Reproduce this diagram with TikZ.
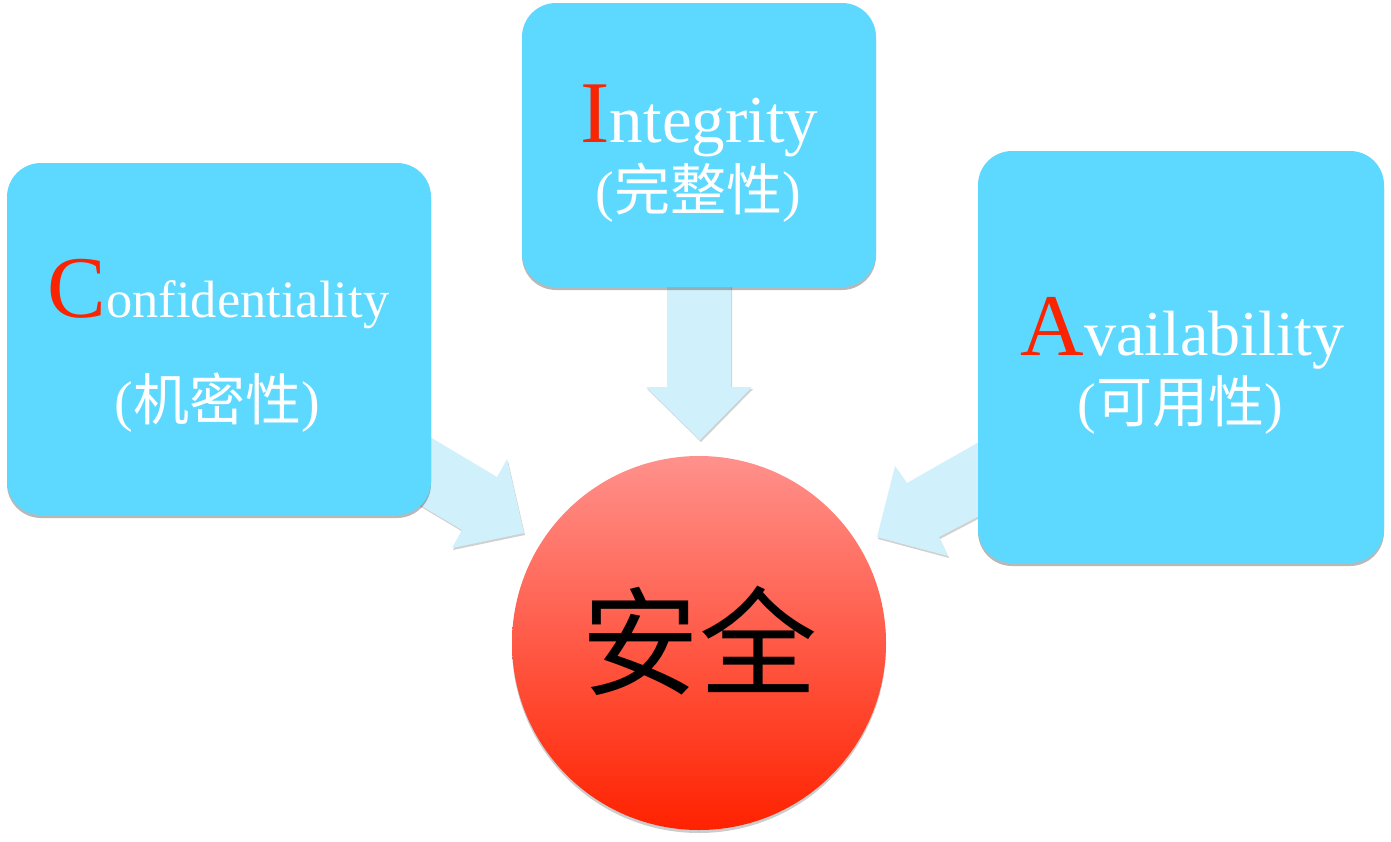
\documentclass[tikz,border=0pt]{standalone}
\usepackage{fontspec}
\setmainfont{Liberation Serif}
\newfontfamily\cjk{Noto Sans CJK SC}
\usetikzlibrary{shadows}
\definecolor{boxblue}{RGB}{93,216,254}
\definecolor{arrowblue}{RGB}{208,241,252}
\definecolor{capred}{RGB}{250,36,0}
\definecolor{circtop}{RGB}{255,145,140}
\definecolor{circbot}{RGB}{255,34,0}
\newcommand{\redinit}[1]{{\fontsize{88}{88}\selectfont\color{capred}#1}}
\begin{document}
\begin{tikzpicture}[x=1pt,y=-1pt,
  shadowed/.style={drop shadow={shadow xshift=0pt,shadow yshift=-3pt,fill=black,opacity=0.28}},
  cbox/.style={fill=boxblue,draw=none,rounded corners=34pt,inner sep=0pt,shadowed},
  blockarrow/.style={fill=arrowblue,draw=none,drop shadow={shadow xshift=1pt,shadow yshift=-2pt,fill=black,opacity=0.18}},
  txt/.style={anchor=base,inner sep=0pt,text=white},
  cjkline/.style={txt,font=\fontsize{56}{56}\selectfont}]
\useasboundingbox (0,0) rectangle (1391,841);
% block arrows
\path[blockarrow] (667,280) -- (731,280) -- (731,387) -- (752,387) -- (700,440) -- (646,387) -- (667,387) -- cycle;
\path[blockarrow] (400,419) -- (497,477) -- (507,459) -- (524,533) -- (452,548) -- (462,530) -- (400,493) -- cycle;
\path[blockarrow] (1000,430) -- (907,483) -- (895,466) -- (877,537) -- (948,556) -- (939,537) -- (1000,505) -- cycle;
% boxes
\node[cbox,minimum width=424pt,minimum height=352pt] (conf) at (219,339) {};
\node[cbox,minimum width=354pt,minimum height=284pt] (integ) at (699,145) {};
\node[cbox,minimum width=406pt,minimum height=412pt] (avail) at (1181,357) {};
% circle
\node[circle,minimum size=374pt,inner sep=0pt,draw=none,top color=circtop,bottom color=circbot,
      drop shadow={shadow xshift=0pt,shadow yshift=-3pt,fill=black,opacity=0.2}] (safe) at (699,643) {};
% texts
\node[txt] (conft) at (218.5,317) {\redinit{C}{\fontsize{52.5}{52.5}\selectfont onfidentiality}};
\node[cjkline] (confc) at (217.5,420) {({\cjk 机密性})};
\node[txt] (integt) at (699.5,142) {\redinit{I}{\fontsize{67}{67}\selectfont ntegrity}};
\node[cjkline] (integc) at (698,210) {({\cjk 完整性})};
\node[txt] (availt) at (1182.5,355) {\redinit{A}{\fontsize{64}{64}\selectfont vailability}};
\node[cjkline] (availc) at (1180,422) {({\cjk 可用性})};
\node[anchor=base,inner sep=0pt,text=black,font=\fontsize{118}{118}\selectfont\cjk] (safet) at (699,686) {安全};
\end{tikzpicture}
\end{document}
